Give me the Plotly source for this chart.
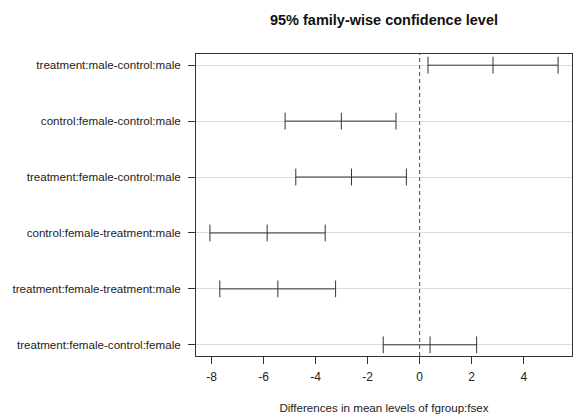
import plotly.graph_objects as go

comparisons = [
    "treatment:male-control:male",
    "control:female-control:male",
    "treatment:female-control:male",
    "control:female-treatment:male",
    "treatment:female-treatment:male",
    "treatment:female-control:female",
]
diff = [2.82, -3.01, -2.62, -5.86, -5.45, 0.40]
lwr = [0.32, -5.17, -4.76, -8.06, -7.68, -1.40]
upr = [5.32, -0.91, -0.51, -3.63, -3.23, 2.19]
x_ticks = [-8, -6, -4, -2, 0, 2, 4]
x_tick_labels = ["-8", "-6", "-4", "-2", "0", "2", "4"]

n = len(comparisons)
ypos = [n - i for i in range(n)]

W, H = 573, 417
L, R, T, B = 196, 1, 54, 61

fig = go.Figure()
col = "#333333"
for i in range(n):
    fig.add_trace(go.Scatter(
        x=[lwr[i], diff[i], upr[i]], y=[ypos[i]] * 3,
        mode="lines+markers",
        line=dict(color=col, width=1),
        marker=dict(symbol="line-ns", size=12, line=dict(color=col, width=1)),
        showlegend=False, hoverinfo="skip", cliponaxis=False,
    ))

lo = min(lwr); hi = max(upr); pad = 0.04 * (hi - lo)
fig.add_shape(type="line", x0=0, x1=0, y0=0, y1=1, xref="x", yref="paper",
              line=dict(color="#444444", width=1, dash="4px,3px"))

fig.update_layout(
    width=W, height=H,
    margin=dict(l=L, r=R, t=T, b=B, autoexpand=False),
    plot_bgcolor="white", paper_bgcolor="white",
    font=dict(family="Liberation Sans, Arial, sans-serif", size=11.6, color="#222222"),
    title=dict(text="<b>95% family-wise confidence level</b>", x=(L + (W - R)) / 2 / W,
               xanchor="center", y=1 - 20 / H, yanchor="middle",
               font=dict(size=14.5, color="#111111")),
    xaxis=dict(range=[lo - pad, hi + pad], tickvals=x_ticks, ticktext=x_tick_labels,
               ticks="outside", ticklen=7,
               tickcolor="#333333", showgrid=False, zeroline=False,
               showline=True, linecolor="#333333", linewidth=1, mirror=True,
               tickfont=dict(size=12), ticklabelstandoff=3,
               title=dict(text="Differences in mean levels of fgroup:fsex", standoff=20,
                          font=dict(size=11.6))),
    yaxis=dict(range=[1 - 0.2, n + 0.2], tickvals=ypos, ticktext=comparisons,
               ticks="outside", ticklen=7, tickcolor="#333333", ticklabelstandoff=5,
               showgrid=True, gridcolor="#dddddd", gridwidth=1, zeroline=False,
               showline=True, linecolor="#333333", linewidth=1, mirror=True,
               tickfont=dict(size=11.6)),
)

fig.write_html("out.html", config={"displayModeBar": False},
               post_script="document.body.style.margin='0';")
